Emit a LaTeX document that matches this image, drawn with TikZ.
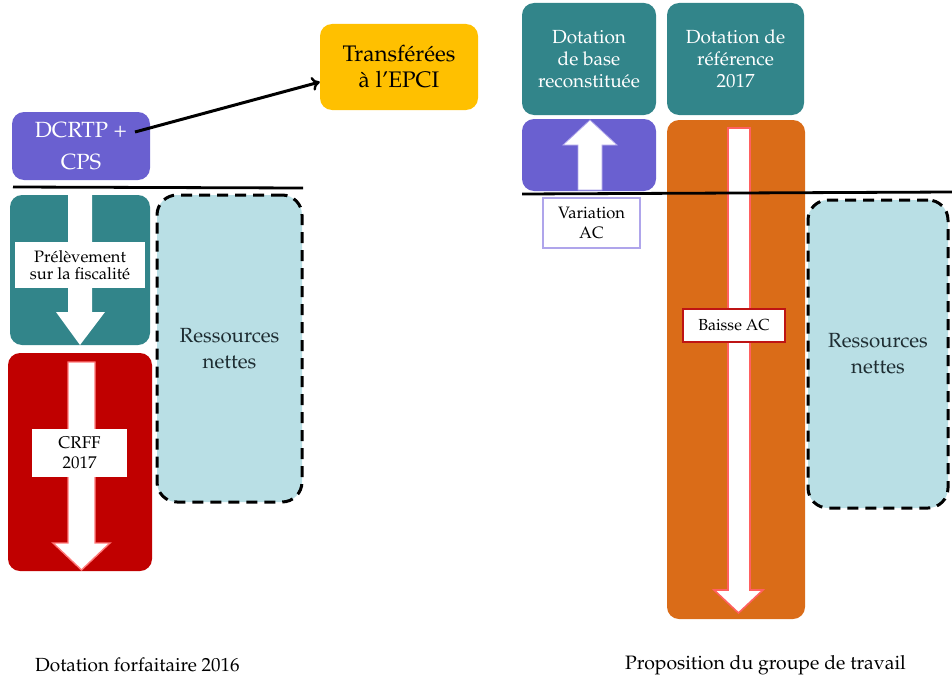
\documentclass[tikz,border=0pt]{standalone}
\usepackage[T1]{fontenc}
\usepackage{mathpazo}
\usetikzlibrary{arrows.meta,calc}

\definecolor{violetbox}{RGB}{106,96,208}
\definecolor{tealbox}{RGB}{50,133,138}
\definecolor{redbox}{RGB}{192,0,0}
\definecolor{orangebox}{RGB}{218,108,24}
\definecolor{goldbox}{RGB}{255,192,0}
\definecolor{paleblue}{RGB}{185,223,229}
\definecolor{darktext}{RGB}{30,45,50}
\definecolor{pinkedge}{RGB}{255,120,120}
\definecolor{lilacedge}{RGB}{175,165,235}
\definecolor{maroonedge}{RGB}{190,20,20}

\begin{document}
\begin{tikzpicture}[x=1pt,y=-1pt,
  block/.style={rounded corners=12pt, inner sep=0pt, align=center, text=white},
  netbox/.style={fill=paleblue, draw=black, line width=3pt,
    dash pattern=on 11pt off 7pt, rounded corners=20pt, inner sep=0pt,
    align=center, text=darktext},
  tag/.style={fill=white, inner sep=0pt, align=center, text=black},
  flow/.style={fill=white},
  divider/.style={line width=2.8pt},
  caption/.style={inner sep=0pt, anchor=west, text=black}]
\useasboundingbox (0,0) rectangle (952,677);

% ---- left column: Dotation forfaitaire 2016 ----
\node[block, fill=violetbox, minimum width=138pt, minimum height=68pt,
  font=\fontsize{22}{32}\selectfont] (dcrtp) at (81,146) {DCRTP +\\CPS};
\node[block, fill=goldbox, text=black, minimum width=158pt, minimum height=86pt,
  font=\fontsize{22.5}{26}\selectfont] (epci) at (399,67) {Transf\'er\'ees\\\`a l'EPCI};
\node[block, fill=tealbox, minimum width=140pt, minimum height=150pt] (prel) at (80,270) {};
\node[block, fill=redbox, minimum width=144pt, minimum height=218pt] (crff) at (80,462) {};
\node[netbox, minimum width=145pt, minimum height=307pt,
  font=\fontsize{20.5}{26}\selectfont] (resL) at (229.5,348.5) {Ressources\\nettes};

% arrow inside the teal block
\fill[flow] (68,195) -- (92,195) -- (92,312) -- (105,312) -- (80,345)
  -- (56,312) -- (68,312) -- cycle;
% arrow inside the red block
\filldraw[flow, draw=pinkedge, line width=1.4pt] (68,362) -- (95,362) -- (95,543)
  -- (110,543) -- (81.5,570) -- (53,543) -- (68,543) -- cycle;

\node[tag, minimum width=130pt, minimum height=46pt,
  font=\fontsize{16.5}{17}\selectfont] (prelTag) at (80,265)
  {Pr\'el\`evement\\sur la fiscalit\'e};
\node[tag, minimum width=95pt, minimum height=48pt,
  font=\fontsize{17}{20}\selectfont] (crffTag) at (79.5,453) {CRFF\\2017};

\coordinate (lineLa) at (13,187);
\coordinate (lineLb) at (303,188);
\draw[divider] (lineLa) -- (lineLb);

\coordinate (plusEnd) at (135,132);
\draw[line width=3pt, -{To[length=8pt,width=14pt,line width=2.4pt]}]
  (plusEnd) -- ([yshift=-15pt]epci.west);

% ---- right column: Proposition du groupe de travail ----
\node[block, fill=tealbox, minimum width=134pt, minimum height=112pt,
  font=\fontsize{19}{22}\selectfont] (dbase) at (589,59)
  {Dotation\\de base\\reconstitu\'ee};
\node[block, fill=tealbox, minimum width=137pt, minimum height=112pt,
  font=\fontsize{19}{22}\selectfont] (dref) at (735.5,59)
  {Dotation de\\r\'ef\'erence\\2017};
\node[block, fill=violetbox, minimum width=134pt, minimum height=72pt] (varbox) at (589,155) {};
\node[block, fill=orangebox, minimum width=138pt, minimum height=499pt] (baisse) at (736,369.5) {};
\node[netbox, minimum width=140pt, minimum height=308pt,
  font=\fontsize{20.5}{26}\selectfont] (resR) at (878,354) {Ressources\\nettes};

% upward arrow in the violet block
\filldraw[flow, draw=lilacedge, line width=0.8pt] (578,190) -- (602,190) -- (602,145)
  -- (617,145) -- (590,120) -- (563,145) -- (578,145) -- cycle;
% downward arrow in the orange block
\filldraw[flow, draw=pinkedge!80!red, line width=1.6pt] (728,128) -- (750,128) -- (750,590)
  -- (763,590) -- (738.5,613) -- (714,590) -- (728,590) -- cycle;

% the divider runs over the blocks and arrows
\coordinate (lineRa) at (522,194);
\coordinate (lineRb) at (952,192);
\draw[divider] (lineRa) -- (lineRb);

\node[tag, draw=lilacedge, line width=1.8pt, minimum width=97pt, minimum height=50pt,
  font=\fontsize{16.5}{20}\selectfont] (varTag) at (591.5,223) {Variation\\AC};
\node[tag, draw=maroonedge, line width=2pt, minimum width=102pt, minimum height=33pt,
  font=\fontsize{16}{18}\selectfont] (baisseTag) at (734,325.5) {Baisse AC};

% captions
\node[caption, font=\fontsize{19}{21}\selectfont] (capL) at (35,665) {Dotation forfaitaire 2016};
\node[caption, font=\fontsize{19.4}{21}\selectfont] (capR) at (625,665) {Proposition du groupe de travail};
\end{tikzpicture}
\end{document}
